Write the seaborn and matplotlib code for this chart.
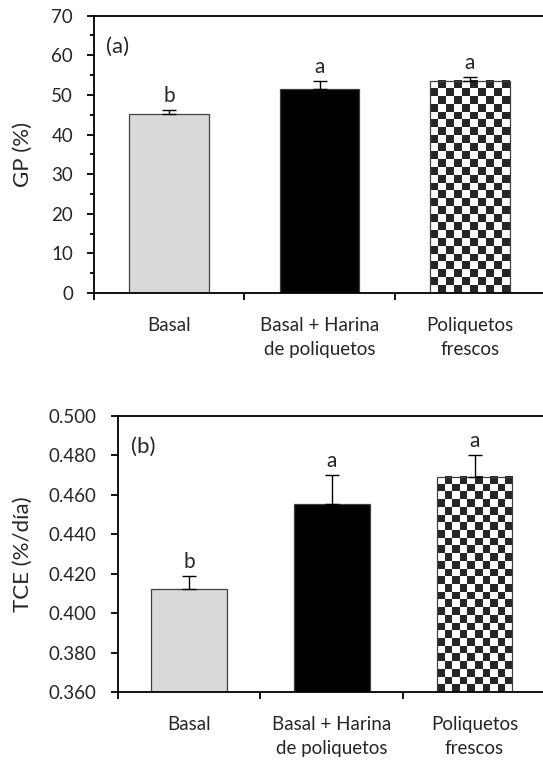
import numpy as np
import pandas as pd
import seaborn as sns
import matplotlib.pyplot as plt
from matplotlib.colors import ListedColormap

# data
categories = ["Basal", "Basal + Harina\nde poliquetos", "Poliquetos\nfrescos"]
gp_values = [45.2, 51.4, 53.6]
gp_errors = [0.9, 2.1, 0.9]
gp_letters = ["b", "a", "a"]
tce_values = [0.412, 0.455, 0.469]
tce_errors = [0.0065, 0.015, 0.011]
tce_letters = ["b", "a", "a"]
bar_colors = ["#d9d9d9", "#000000", "#ffffff"]

sns.set_style("ticks")
plt.rcParams["font.family"] = ["Lato", "DejaVu Sans"]
FS = 13.5

fig = plt.figure(figsize=(5.43, 7.65), dpi=100)
ax1 = fig.add_axes([0.1731, 0.617, 0.8306, 0.3625])
ax2 = fig.add_axes([0.2164, 0.0954, 0.789, 0.3614])


def checker_fill(ax, patch, ybottom):
    # checkerboard fill clipped to the bar
    x0, w, h = patch.get_x(), patch.get_width(), patch.get_height()
    p0 = ax.transData.transform((x0, ybottom))
    p1 = ax.transData.transform((x0 + w, h))
    ncol = 10
    sq = (p1[0] - p0[0]) / ncol
    nrow = int(round((p1[1] - p0[1]) / sq))
    ii, jj = np.indices((nrow, ncol))
    board = (ii + jj) % 2
    ax.imshow(board, cmap=ListedColormap(["white", "#262626"]), extent=[x0, x0 + w, ybottom, h],
              aspect="auto", interpolation="nearest", zorder=0.9, origin="upper")
    patch.set_facecolor("none")


def draw_panel(ax, values, errors, letters, ylim, ticks, minor, fmt, ylabel, tag, tagpos, labx):
    df = pd.DataFrame({"cat": categories, "val": values})
    sns.barplot(data=df, x="cat", y="val", hue="cat", palette=bar_colors, legend=False,
                width=0.53, edgecolor="#404040", linewidth=0.9, ax=ax)
    ax.errorbar(range(len(values)), values, yerr=[[0] * len(values), errors], fmt="none",
                ecolor="black", elinewidth=1.0, capsize=5, capthick=1.0, zorder=3)
    for i, (v, e, l) in enumerate(zip(values, errors, letters)):
        ax.annotate(l, (i, v + e), xytext=(0, 3), textcoords="offset points",
                    ha="center", va="bottom", fontsize=FS + 1.5)
    ax.set_xlim(-0.5, 2.5)
    ax.set_ylim(*ylim)
    ax.set_yticks(ticks)
    ax.set_yticklabels([fmt.format(t) for t in ticks], fontsize=FS)
    if minor is not None:
        ax.set_yticks(minor, minor=True)
    ax.set_xticks([-0.5, 0.5, 1.5, 2.5])
    ax.set_xticklabels([])
    ax.set_xticks([0, 1, 2], minor=True)
    ax.set_xticklabels(categories, minor=True, fontsize=FS, linespacing=1.5)
    ax.tick_params(axis="x", which="minor", length=0, pad=17)
    ax.tick_params(axis="both", which="major", length=5, width=1.3, color="black")
    ax.tick_params(axis="y", which="major", pad=10)
    ax.tick_params(axis="y", which="minor", length=3, width=1.3, color="black")
    ax.set_xlabel("")
    ax.set_ylabel(ylabel, fontsize=FS + 2.5)
    ax.yaxis.set_label_coords(labx, 0.5)
    for s in ax.spines.values():
        s.set_linewidth(1.3)
        s.set_color("black")
    ax.text(tagpos[0], tagpos[1], tag, transform=ax.transAxes, fontsize=FS + 2.5, va="center", ha="left")
    checker_fill(ax, ax.patches[2], ylim[0])


draw_panel(ax1, gp_values, gp_errors, gp_letters, (0, 70), np.arange(0, 71, 10),
           np.arange(5, 70, 10), "{:.0f}", "GP (%)", "(a)", (0.027, 0.888), -0.135)
draw_panel(ax2, tce_values, tce_errors, tce_letters, (0.36, 0.50), np.arange(0.36, 0.5001, 0.02),
           None, "{:.3f}", "TCE (%/día)", "(b)", (0.031, 0.886), -0.197)

fig.savefig("out.png", dpi=100)
